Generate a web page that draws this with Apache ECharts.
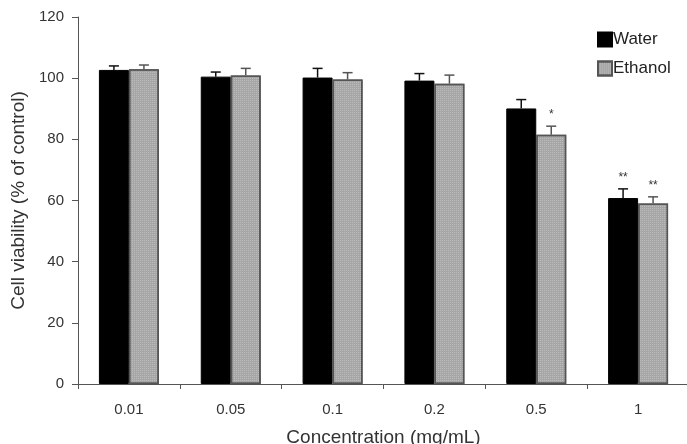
<!DOCTYPE html>
<html>
<head>
<meta charset="utf-8">
<script src="https://cdn.jsdelivr.net/npm/echarts@6/dist/echarts.min.js"></script>
<style>
  html, body { margin: 0; padding: 0; background: #fff; }
  #chart { width: 687px; height: 444px; }
</style>
</head>
<body>
<div id="chart"></div>
<script>
const categories = ['0.01', '0.05', '0.1', '0.2', '0.5', '1'];
const water = [102.7, 100.5, 100.2, 99.2, 90.1, 60.8];
const waterErr = [104.0, 102.0, 103.2, 101.5, 93.0, 63.8];
const ethanol = [102.9, 100.9, 99.6, 98.2, 81.5, 59.0];
const ethanolErr = [104.3, 103.2, 101.8, 101.0, 84.3, 61.2];
const waterSig = ['', '', '', '', '', '**'];
const ethanolSig = ['', '', '', '', '*', '**'];
const yTicks = [0, 20, 40, 60, 80, 100, 120];

const BAR_W = 30;
const FONT = '"Liberation Sans", Arial, sans-serif';

function errorSeries(name, vals, tops, sig, offset, color) {
  return {
    name: name + ' err',
    type: 'custom',
    z: 5,
    data: vals.map((v, i) => [i, v, tops[i]]),
    renderItem: function (params, api) {
      const base = api.coord([api.value(0), api.value(1)]);
      const top = api.coord([api.value(0), api.value(2)]);
      const x = base[0] + offset;
      const children = [
        { type: 'line', shape: { x1: x, y1: base[1], x2: x, y2: top[1] }, style: { stroke: color, lineWidth: 1.5 } },
        { type: 'line', shape: { x1: x - 5, y1: top[1], x2: x + 5, y2: top[1] }, style: { stroke: color, lineWidth: 1.5 } }
      ];
      const s = sig[params.dataIndex];
      if (s) {
        children.push({
          type: 'text',
          style: { text: s, x: x, y: top[1] - 5, align: 'center', verticalAlign: 'bottom',
                   fill: '#333', font: '12px ' + FONT }
        });
      }
      return { type: 'group', children: children };
    }
  };
}

const chart = echarts.init(document.getElementById('chart'));
chart.setOption({
  animation: false,
  textStyle: { fontFamily: FONT },
  grid: { left: 78, right: -2, top: 17, bottom: 60, outerBoundsMode: 'none' },
  legend: {
    data: ['Water', 'Ethanol'],
    orient: 'vertical',
    left: 592,
    top: 26,
    itemWidth: 14,
    itemHeight: 14,
    itemGap: 12,
    icon: 'rect',
    textStyle: { fontSize: 17, color: '#222', padding: [0, 0, 0, -4] }
  },
  xAxis: {
    type: 'category',
    data: categories,
    name: 'Concentration (mg/mL)',
    nameLocation: 'middle',
    nameGap: 44,
    nameTextStyle: { fontSize: 19, color: '#333' },
    axisLine: { lineStyle: { color: '#555', width: 1 } },
    axisTick: { show: true, length: 5, lineStyle: { color: '#555' } },
    axisLabel: { fontSize: 15, color: '#333', margin: 18 }
  },
  yAxis: {
    type: 'value',
    min: 0,
    max: 120,
    interval: 20,
    name: 'Cell viability (% of control)',
    nameLocation: 'middle',
    nameGap: 50,
    nameTextStyle: { fontSize: 19, color: '#333' },
    axisLine: { show: true, lineStyle: { color: '#555', width: 1 } },
    axisTick: { show: true, length: 6, lineStyle: { color: '#555' } },
    axisLabel: { fontSize: 15, color: '#333', margin: 14,
                 formatter: v => yTicks.includes(v) ? String(v) : '' },
    splitLine: { show: false }
  },
  series: [
    {
      name: 'Water',
      type: 'bar',
      data: water,
      barWidth: BAR_W,
      barGap: '0%',
      itemStyle: { color: '#000', borderColor: '#000', borderWidth: 1 }
    },
    {
      name: 'Ethanol',
      type: 'bar',
      data: ethanol,
      barWidth: BAR_W,
      barGap: '0%',
      itemStyle: {
        color: '#a6a6a6', borderColor: '#555', borderWidth: 1.5,
        decal: { symbol: 'rect', symbolSize: 1, dashArrayX: [1, 1], dashArrayY: [1, 1],
                 color: 'rgba(255,255,255,0.25)', rotation: 0 }
      }
    },
    errorSeries('Water', water, waterErr, waterSig, -BAR_W / 2, '#111'),
    errorSeries('Ethanol', ethanol, ethanolErr, ethanolSig, BAR_W / 2, '#555')
  ]
});
</script>
</body>
</html>
